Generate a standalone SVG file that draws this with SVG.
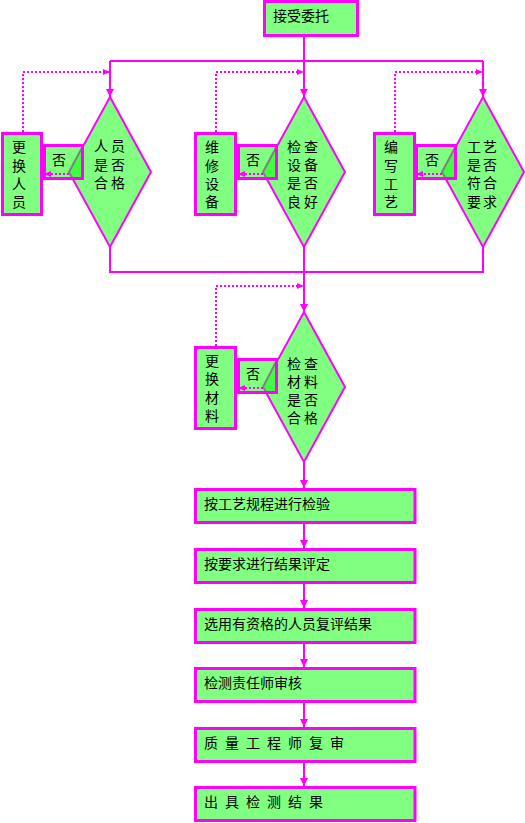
<svg xmlns="http://www.w3.org/2000/svg" width="525" height="823" viewBox="0 0 525 823">
<style>
.box{fill:#80FF80;stroke:#FF00FF;stroke-width:3}
.dia{fill:#80FF80;stroke:#FF00FF;stroke-width:2}
.ov{fill:#40FF40;stroke:none}
.gl{fill:none;stroke:#808080;stroke-width:2}
.ol{fill:none;stroke:#FF00FF;stroke-width:3}
.ln{fill:none;stroke:#FF00FF;stroke-width:2}
.dt{fill:none;stroke:#FF00FF;stroke-width:2;stroke-dasharray:2 2}
text{font-family:"Liberation Sans","Noto Sans CJK SC",sans-serif;font-size:14px;fill:#000}
.c{text-anchor:middle}
</style>
<defs>
<marker id="a" markerUnits="userSpaceOnUse" markerWidth="8" markerHeight="8" refX="8" refY="4" orient="auto"><path d="M0,0L8,4L0,8z" fill="#FF00FF"/></marker>
<marker id="d" markerUnits="userSpaceOnUse" markerWidth="7" markerHeight="6" refX="7" refY="3" orient="auto"><path d="M0,0L7,3L0,6z" fill="#FF00FF"/></marker>
</defs>

<g id="connectors">
<path class="ln" d="M304,37V97" marker-end="url(#a)"/>
<path class="ln" d="M110,61H483"/>
<path class="ln" d="M110,61V97" marker-end="url(#a)"/>
<path class="ln" d="M483,61V97" marker-end="url(#a)"/>
<path class="ln" d="M110,247V272H483V247"/>
<path class="ln" d="M304,247V312" marker-end="url(#a)"/>
<path class="ln" d="M304,462V488" marker-end="url(#a)"/>
<path class="ln" d="M304,524V548" marker-end="url(#a)"/>
<path class="ln" d="M304,584V608" marker-end="url(#a)"/>
<path class="ln" d="M304,644V667" marker-end="url(#a)"/>
<path class="ln" d="M304,703V727" marker-end="url(#a)"/>
<path class="ln" d="M304,763V786" marker-end="url(#a)"/>
<path class="dt" d="M23,132V72H110" marker-end="url(#d)"/>
<path class="dt" d="M216,132V72H304" marker-end="url(#d)"/>
<path class="dt" d="M395,132V72H483" marker-end="url(#d)"/>
<path class="dt" d="M216,346V286H304" marker-end="url(#d)"/>
</g>

<g id="n_start">
<rect class="box" x="264.5" y="1.5" width="93" height="34"/>
<text x="273" y="21">接受委托</text>
</g>

<g id="n_d1">
<polygon class="dia" points="110,97 151,172 110,247 69,172"/>
<text class="c"><tspan x="101" y="151">人</tspan><tspan x="118" y="151">员</tspan><tspan x="101" y="170">是</tspan><tspan x="118" y="170">否</tspan><tspan x="101" y="188">合</tspan><tspan x="118" y="188">格</tspan></text>
</g>
<g id="n_no1">
<rect class="box" x="44.5" y="145.5" width="38" height="33" style="stroke:none"/>
<polygon class="ov" points="84,144 69,172 73.4,180 84,180"/>
<polyline class="gl" points="84,144 69,172 73.4,180"/>
<rect class="ol" x="44.5" y="145.5" width="38" height="33"/>
<text class="c" x="59" y="165">否</text>
</g>
<g id="n_r1">
<rect class="box" x="2.5" y="133.5" width="39" height="81"/>
<text class="c"><tspan x="19" y="152">更</tspan><tspan x="19" y="171">换</tspan><tspan x="19" y="189">人</tspan><tspan x="19" y="207">员</tspan></text>
</g>
<path class="dt" d="M69,174H44" marker-end="url(#d)"/>

<g id="n_d2">
<polygon class="dia" points="304,97 345,172 304,247 263,172"/>
<text class="c"><tspan x="294" y="152">检</tspan><tspan x="311" y="152">查</tspan><tspan x="294" y="170">设</tspan><tspan x="311" y="170">备</tspan><tspan x="294" y="188">是</tspan><tspan x="311" y="188">否</tspan><tspan x="294" y="207">良</tspan><tspan x="311" y="207">好</tspan></text>
</g>
<g id="n_no2">
<rect class="box" x="238.5" y="145.5" width="38" height="33" style="stroke:none"/>
<polygon class="ov" points="278,144 263,172 267.4,180 278,180"/>
<polyline class="gl" points="278,144 263,172 267.4,180"/>
<rect class="ol" x="238.5" y="145.5" width="38" height="33"/>
<text class="c" x="253" y="165">否</text>
</g>
<g id="n_r2">
<rect class="box" x="195.5" y="133.5" width="40" height="81"/>
<text class="c"><tspan x="212" y="152">维</tspan><tspan x="212" y="171">修</tspan><tspan x="212" y="189">设</tspan><tspan x="212" y="207">备</tspan></text>
</g>
<path class="dt" d="M263,174H238" marker-end="url(#d)"/>

<g id="n_d3">
<polygon class="dia" points="483,97 524,172 483,247 442,172"/>
<text class="c"><tspan x="474" y="152">工</tspan><tspan x="490" y="152">艺</tspan><tspan x="474" y="170">是</tspan><tspan x="490" y="170">否</tspan><tspan x="474" y="188">符</tspan><tspan x="490" y="188">合</tspan><tspan x="474" y="207">要</tspan><tspan x="490" y="207">求</tspan></text>
</g>
<g id="n_no3">
<rect class="box" x="416.5" y="145.5" width="39" height="33" style="stroke:none"/>
<polygon class="ov" points="457,144 442,172 446.4,180 457,180"/>
<polyline class="gl" points="457,144 442,172 446.4,180"/>
<rect class="ol" x="416.5" y="145.5" width="39" height="33"/>
<text class="c" x="432" y="165">否</text>
</g>
<g id="n_r3">
<rect class="box" x="374.5" y="133.5" width="40" height="81"/>
<text class="c"><tspan x="391" y="152">编</tspan><tspan x="391" y="171">写</tspan><tspan x="391" y="189">工</tspan><tspan x="391" y="207">艺</tspan></text>
</g>
<path class="dt" d="M442,174H416" marker-end="url(#d)"/>

<g id="n_d4">
<polygon class="dia" points="304,312 345,387 304,462 263,387"/>
<text class="c"><tspan x="294" y="369">检</tspan><tspan x="311" y="369">查</tspan><tspan x="294" y="387">材</tspan><tspan x="311" y="387">料</tspan><tspan x="294" y="405">是</tspan><tspan x="311" y="405">否</tspan><tspan x="294" y="423">合</tspan><tspan x="311" y="423">格</tspan></text>
</g>
<g id="n_no4">
<rect class="box" x="238.5" y="359.5" width="38" height="33" style="stroke:none"/>
<polygon class="ov" points="278,358 263,387 267.4,394 278,394"/>
<polyline class="gl" points="278,358 263,387 267.4,394"/>
<rect class="ol" x="238.5" y="359.5" width="38" height="33"/>
<text class="c" x="253" y="379">否</text>
</g>
<g id="n_r4">
<rect class="box" x="195.5" y="347.5" width="40" height="81"/>
<text class="c"><tspan x="212" y="366">更</tspan><tspan x="212" y="384">换</tspan><tspan x="212" y="403">材</tspan><tspan x="212" y="421">料</tspan></text>
</g>
<path class="dt" d="M263,388H238" marker-end="url(#d)"/>

<g id="n_s1">
<rect class="box" x="195.5" y="489.5" width="219.5" height="33"/>
<text x="204" y="509">按工艺规程进行检验</text>
</g>
<g id="n_s2">
<rect class="box" x="195.5" y="549.5" width="219.5" height="33"/>
<text x="204" y="569">按要求进行结果评定</text>
</g>
<g id="n_s3">
<rect class="box" x="195.5" y="609.5" width="219.5" height="33"/>
<text x="204" y="629">选用有资格的人员复评结果</text>
</g>
<g id="n_s4">
<rect class="box" x="195.5" y="668.5" width="219.5" height="33"/>
<text x="204" y="688">检测责任师审核</text>
</g>
<g id="n_s5">
<rect class="box" x="195.5" y="728.5" width="219.5" height="33"/>
<text x="204 218 225 239 246 260 267 281 288 302 309 323 330" y="748">质 量 工 程 师 复 审</text>
</g>
<g id="n_s6">
<rect class="box" x="195.5" y="787.5" width="219.5" height="33"/>
<text x="204 218 225 239 246 260 267 281 288 302 309" y="807">出 具 检 测 结 果</text>
</g>
</svg>
